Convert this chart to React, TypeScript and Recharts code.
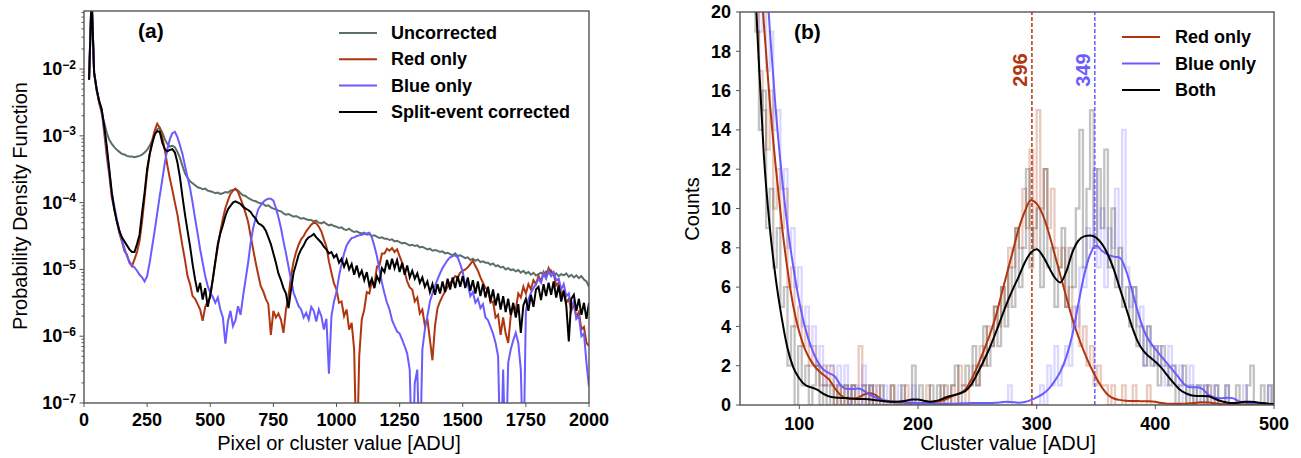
import React from "react";
import {
  LineChart,
  Line,
  XAxis,
  YAxis,
  ReferenceLine,
} from "recharts";

const FONT = '"Liberation Sans", Arial, Helvetica, sans-serif';
const SPINE = "#555555";

const COLOR_UNC = "#5d7068";
const COLOR_RED = "#b0360f";
const COLOR_BLUE = "#6a5cff";
const COLOR_BLACK = "#000000";

// ---------- panel (a): PDF on a log axis, bins every 10 ADU from 20 to 2000 ----------
const pdfAdu = Array.from({ length: 199 }, (_, i) => 20 + 10 * i);

// values are log10(PDF); -8 marks an empty bin (drawn below the axis)
const uncorrectedLog = [
  -2.16, -0.9, -2.05, -2.3, -2.5, -2.66, -2.8, -2.95,
  -3.06, -3.12, -3.17, -3.21, -3.24, -3.27, -3.28, -3.3, -3.31, -3.31,
  -3.32, -3.31, -3.3, -3.28, -3.25, -3.21, -3.15, -3.07, -2.98, -2.9,
  -2.88, -2.95, -3.05, -3.12, -3.16, -3.15, -3.17, -3.24, -3.33, -3.45,
  -3.56, -3.63, -3.68, -3.71, -3.74, -3.77, -3.78, -3.8, -3.79, -3.82,
  -3.83, -3.84, -3.86, -3.85, -3.87, -3.86, -3.84, -3.85, -3.82, -3.81,
  -3.8, -3.82, -3.86, -3.89, -3.9, -3.93, -3.95, -3.97, -3.98, -4.0,
  -4.01, -4.02, -4.05, -4.04, -4.07, -4.09, -4.1, -4.12, -4.13, -4.16,
  -4.18, -4.17, -4.19, -4.21, -4.2, -4.22, -4.24, -4.23, -4.25, -4.26,
  -4.26, -4.28, -4.27, -4.3, -4.31, -4.29, -4.32, -4.34, -4.33, -4.35,
  -4.36, -4.38, -4.37, -4.4, -4.41, -4.39, -4.42, -4.44, -4.43, -4.45,
  -4.46, -4.45, -4.48, -4.47, -4.5, -4.49, -4.51, -4.53, -4.52, -4.54,
  -4.54, -4.56, -4.55, -4.58, -4.57, -4.59, -4.61, -4.6, -4.62, -4.64,
  -4.63, -4.65, -4.64, -4.67, -4.66, -4.68, -4.7, -4.69, -4.72, -4.71,
  -4.72, -4.74, -4.73, -4.76, -4.75, -4.77, -4.79, -4.76, -4.8, -4.79,
  -4.81, -4.83, -4.82, -4.86, -4.84, -4.87, -4.85, -4.89, -4.88, -4.9,
  -4.9, -4.93, -4.91, -4.95, -4.94, -4.97, -4.96, -5.0, -4.98, -5.01,
  -5.0, -5.03, -5.01, -5.05, -5.02, -5.06, -5.04, -5.08, -5.05, -5.09,
  -5.07, -5.05, -5.08, -5.03, -5.06, -5.02, -5.09, -5.06, -5.1, -5.07,
  -5.09, -5.06, -5.11, -5.08, -5.12, -5.09, -5.13, -5.1, -5.15, -5.18,
  -5.26,
];

const redOnlyLog = [
  -2.16, -0.9, -2.05, -2.32, -2.5, -2.63, -2.95, -3.3,
  -3.58, -3.92, -4.1, -4.28, -4.46, -4.58, -4.72, -4.78, -4.9, -4.95,
  -4.85, -4.74, -4.57, -4.28, -3.92, -3.55, -3.27, -3.07, -2.92, -2.82,
  -2.88, -3.02, -3.21, -3.44, -3.64, -3.81, -4.0, -4.18, -4.42, -4.65,
  -4.86, -5.1, -5.22, -5.4, -5.44, -5.52, -5.6, -5.77, -5.56, -5.48,
  -5.42, -5.15, -4.9, -4.66, -4.43, -4.24, -4.08, -3.97, -3.87, -3.82,
  -3.79, -3.84, -3.94, -4.04, -4.16, -4.29, -4.5, -4.7, -4.9, -5.08,
  -5.25, -5.33, -5.44, -5.52, -5.98, -5.62, -5.72, -5.66, -5.75, -5.95,
  -5.6, -5.4, -5.1, -4.88, -4.74, -4.63, -4.55, -4.5, -4.43, -4.38,
  -4.33, -4.3, -4.31, -4.36, -4.43, -4.55, -4.66, -4.88, -5.05, -5.21,
  -5.3, -5.5, -5.48, -5.7, -5.6, -5.9, -5.8, -6.2, -8, -6.3,
  -5.75, -5.6, -5.34, -5.36, -5.18, -5.24, -4.96, -4.94, -4.76, -4.76,
  -4.69, -4.72, -4.68, -4.74, -4.7, -4.8, -4.9, -5.04, -5.18, -5.27,
  -5.3, -5.48, -5.42, -5.66, -5.6, -5.84, -5.74, -6.05, -6.36, -5.85,
  -5.58, -5.48, -5.4, -5.33, -5.26, -5.2, -5.16, -5.1, -5.12, -5.05,
  -5.02, -5.0, -4.97, -4.92, -4.87, -4.95, -5.02, -5.12, -5.2, -5.28,
  -5.3, -5.5, -5.48, -5.72, -5.68, -5.98, -5.72, -5.96, -6.1, -5.7,
  -5.55, -5.6, -5.36, -5.42, -5.26, -5.36, -5.22, -5.3, -5.16, -5.22,
  -5.1, -5.18, -5.04, -5.12, -4.98, -5.04, -5.06, -5.24, -5.2, -5.38,
  -5.32, -5.5, -5.44, -5.62, -5.52, -5.72, -5.64, -5.9, -5.86, -6.1,
  -6.15,
];

const blueOnlyLog = [
  -2.16, -0.9, -2.05, -2.3, -2.48, -2.6, -2.88, -3.2,
  -3.52, -3.85, -4.05, -4.25, -4.42, -4.56, -4.68, -4.8, -4.88, -4.94,
  -4.97, -5.02, -5.08, -5.12, -5.18, -5.1, -4.9, -4.66, -4.42, -4.16,
  -3.9, -3.66, -3.41, -3.2, -3.05, -2.96, -2.94, -3.02, -3.14, -3.27,
  -3.45, -3.62, -3.78, -4.0, -4.24, -4.46, -4.7, -4.9, -5.1, -5.25,
  -5.35, -5.41, -5.5, -5.42, -5.6, -5.72, -6.11, -5.78, -5.62, -5.85,
  -5.76, -5.55, -5.68, -5.4, -5.15, -4.9, -4.6, -4.38, -4.23, -4.1,
  -4.04, -3.99, -3.96, -3.94, -3.94, -3.97, -4.08, -4.22, -4.38, -4.58,
  -4.76, -4.96, -5.15, -5.35, -5.45, -5.55, -5.6, -5.72, -5.65, -5.75,
  -5.56, -5.62, -5.78, -5.6, -5.7, -5.9, -5.74, -6.56, -5.7, -5.48,
  -5.34, -5.1, -4.92, -4.76, -4.64, -4.58, -4.53, -4.52, -4.5, -4.49,
  -4.48, -4.47, -4.46, -4.45, -4.52, -4.65, -4.8, -5.0, -5.2, -5.36,
  -5.5, -5.6, -5.76, -5.85, -5.93, -5.96, -6.05, -6.15, -6.26, -6.5,
  -8, -6.7, -6.5, -8, -6.2, -5.9, -5.7, -5.48, -5.36, -5.25,
  -5.15, -5.06, -4.98, -4.92, -4.86, -4.82, -4.8, -4.79, -4.82, -4.92,
  -5.04, -5.24, -5.22, -5.4, -5.34, -5.5, -5.44, -5.58, -5.52, -5.72,
  -5.76, -5.86, -5.96, -6.1, -6.3, -8, -6.5, -8, -6.4, -6.2,
  -6.06, -5.95, -6.1, -6.5, -8, -5.62, -5.45, -5.35, -5.28, -5.22,
  -5.14, -5.2, -5.06, -5.14, -5.02, -5.1, -5.04, -5.16, -5.14, -5.3,
  -5.22, -5.4, -5.36, -5.56, -5.48, -5.74, -5.7, -6.0, -5.96, -6.4,
  -6.76,
];

const splitCorrectedLog = [
  -2.16, -0.9, -2.05, -2.3, -2.48, -2.6, -2.85, -3.15,
  -3.5, -3.85, -4.1, -4.28, -4.42, -4.52, -4.58, -4.64, -4.7, -4.74,
  -4.74, -4.62, -4.48, -4.15, -3.85, -3.5, -3.28, -3.12, -2.98, -2.93,
  -2.94, -3.1, -3.2, -3.23, -3.21, -3.2, -3.25, -3.4, -3.62, -3.91,
  -4.18, -4.42, -4.65, -4.92, -5.15, -5.34, -5.2, -5.45, -5.28, -5.56,
  -5.38, -5.15, -4.88, -4.62, -4.46, -4.34, -4.2, -4.1, -4.05, -4.0,
  -3.98, -4.0, -4.02, -4.06, -4.09, -4.11, -4.14, -4.2, -4.24, -4.31,
  -4.33, -4.36, -4.42, -4.52, -4.62, -4.76, -4.9, -5.06, -5.16, -5.28,
  -5.36, -5.58, -5.3, -5.05, -4.92, -4.78, -4.7, -4.64, -4.56, -4.52,
  -4.5, -4.47, -4.52, -4.56, -4.6, -4.66, -4.7, -4.76, -4.74, -4.82,
  -4.78, -4.9, -4.84, -4.96, -4.86, -5.0, -4.92, -5.08, -4.94, -5.1,
  -5.02, -5.16, -5.04, -5.24, -5.14, -5.28, -5.1, -5.18, -4.98, -5.04,
  -4.86, -5.0, -4.84, -4.98, -4.86, -5.04, -4.9, -5.08, -4.94, -5.12,
  -5.02, -5.14, -5.06, -5.2, -5.12, -5.26, -5.18, -5.34, -5.22, -5.38,
  -5.22, -5.36, -5.18, -5.34, -5.14, -5.3, -5.12, -5.28, -5.1, -5.26,
  -5.1, -5.28, -5.12, -5.32, -5.16, -5.36, -5.18, -5.4, -5.22, -5.42,
  -5.26, -5.48, -5.3, -5.54, -5.36, -5.6, -5.4, -5.64, -5.44, -5.68,
  -5.5, -5.72, -5.52, -5.95, -5.54, -5.44, -5.62, -5.38, -5.56, -5.3,
  -5.26, -5.46, -5.22, -5.4, -5.2, -5.38, -5.18, -5.42, -5.24, -5.48,
  -5.32, -5.54, -6.08, -5.44, -5.38, -5.62, -5.44, -5.68, -5.5, -5.74,
  -5.5,
];

const pdfXTicks = [0, 250, 500, 750, 1000, 1250, 1500, 1750, 2000];
const pdfYTicks = [
  1e-7, 2e-7, 3e-7, 4e-7, 5e-7, 6e-7, 7e-7, 8e-7, 9e-7,
  1e-6, 2e-6, 3e-6, 4e-6, 5e-6, 6e-6, 7e-6, 8e-6, 9e-6,
  1e-5, 2e-5, 3e-5, 4e-5, 5e-5, 6e-5, 7e-5, 8e-5, 9e-5,
  1e-4, 2e-4, 3e-4, 4e-4, 5e-4, 6e-4, 7e-4, 8e-4, 9e-4,
  1e-3, 2e-3, 3e-3, 4e-3, 5e-3, 6e-3, 7e-3, 8e-3, 9e-3,
  1e-2, 2e-2, 3e-2, 4e-2, 5e-2, 6e-2, 7e-2,
];

// ---------- panel (b): cluster histograms ----------
// smoothed curves, every 5 ADU from 50 to 500
const smoothAdu = Array.from({ length: 91 }, (_, i) => 50 + 5 * i);

const redSmooth = [
  40, 36, 30, 24.5, 19.5, 15.5, 12.2, 9.3, 6.9, 5.0,
  3.7, 2.8, 2.22, 1.82, 1.55, 1.3, 0.85, 0.5, 0.33, 0.3,
  0.38, 0.55, 0.6, 0.48, 0.25, 0.16, 0.14, 0.13, 0.12, 0.1,
  0.1, 0.1, 0.12, 0.16, 0.22, 0.33, 0.48, 0.6, 0.8, 1.3,
  1.95, 2.7, 3.5, 4.4, 5.55, 6.7, 7.85, 9.0, 9.85, 10.42,
  10.25, 9.7, 8.8, 7.7, 6.6, 5.5, 4.4, 3.5, 2.7, 2.0,
  1.4, 0.9, 0.52, 0.33, 0.26, 0.22, 0.2, 0.2, 0.19, 0.19,
  0.16, 0.1, 0.07, 0.06, 0.06, 0.07, 0.09, 0.12, 0.14, 0.13,
  0.09, 0.05, 0.03, 0.03, 0.02, 0.02, 0.02, 0.01, 0.01, 0.01,
  0.01,
];

const blueSmooth = [
  42, 40, 36, 30, 24, 19.2, 15.1, 11.8, 9.1, 7.0,
  5.25, 3.9, 2.95, 2.25, 1.82, 1.62, 1.45, 1.0, 0.82, 0.82,
  0.84, 0.7, 0.5, 0.36, 0.26, 0.21, 0.18, 0.16, 0.14, 0.12,
  0.1, 0.09, 0.08, 0.07, 0.07, 0.07, 0.07, 0.08, 0.09, 0.1,
  0.1, 0.1, 0.1, 0.11, 0.14, 0.17, 0.14, 0.12, 0.15, 0.25,
  0.39, 0.55, 0.81, 1.2, 1.7, 2.45, 3.55, 5.1, 6.6, 7.65,
  8.12, 7.85, 7.65, 7.55, 7.5, 6.9, 5.9, 4.8, 3.85, 3.25,
  2.85, 2.48, 2.12, 1.75, 1.38, 1.02, 0.9, 0.9, 0.8, 0.5,
  0.38, 0.34, 0.37, 0.35, 0.2, 0.14, 0.1, 0.09, 0.08, 0.06,
  0.05,
];

const bothSmooth = [
  40, 32, 25, 18.5, 12.8, 9.1, 6.5, 4.5, 2.9, 1.9,
  1.35, 1.02, 0.9, 0.78, 0.58, 0.44, 0.38, 0.36, 0.35, 0.33,
  0.31, 0.3, 0.28, 0.24, 0.2, 0.18, 0.17, 0.18, 0.22, 0.28,
  0.28, 0.22, 0.17, 0.2, 0.3, 0.42, 0.5, 0.58, 0.72, 1.05,
  1.6, 2.2, 2.85, 3.6, 4.4, 5.2, 5.9, 6.55, 7.25, 7.75,
  7.92, 7.6, 7.05, 6.5, 6.24, 6.8, 7.75, 8.35, 8.58, 8.62,
  8.52, 8.2, 7.66, 6.9, 5.95, 5.0, 4.05, 3.25, 2.75, 2.45,
  2.2, 1.9, 1.52, 1.15, 0.82, 0.62, 0.5, 0.46, 0.46, 0.44,
  0.32, 0.2, 0.13, 0.1, 0.12, 0.16, 0.17, 0.14, 0.1, 0.07,
  0.05,
];

// raw histogram counts, 3 ADU bins starting at 51
const histAdu = Array.from({ length: 150 }, (_, i) => 51 + 3 * i);

const redCounts = [
  34, 30, 27, 22, 20, 17, 15, 13, 16, 10,
  12, 9, 11, 6, 7, 4, 5, 3, 4, 2,
  3, 2, 1, 2, 1, 2, 0, 1, 0, 1,
  0, 1, 0, 3, 1, 0, 1, 0, 1, 0,
  0, 0, 1, 0, 0, 0, 1, 0, 0, 0,
  0, 0, 1, 0, 0, 0, 1, 0, 0, 1,
  0, 2, 1, 0, 1, 2, 1, 3, 2, 4,
  3, 5, 4, 6, 5, 8, 7, 9, 8, 11,
  9, 13, 8, 15, 10, 12, 9, 11, 8, 7,
  8, 5, 6, 4, 5, 3, 4, 2, 3, 1,
  2, 1, 1, 0, 1, 0, 0, 1, 0, 0,
  1, 0, 0, 0, 1, 0, 0, 0, 0, 0,
  0, 0, 0, 0, 0, 0, 0, 0, 0, 0,
  0, 1, 0, 0, 0, 0, 0, 0, 0, 0,
  0, 0, 0, 0, 0, 0, 0, 0, 0, 0,
];

const blueCounts = [
  40, 35, 30, 26, 23, 19, 21, 17, 19, 14,
  15, 11, 12, 8, 9, 6, 7, 4, 5, 3,
  4, 2, 3, 1, 2, 2, 1, 2, 1, 2,
  0, 1, 1, 0, 2, 1, 0, 1, 0, 0,
  1, 0, 0, 0, 1, 0, 0, 0, 1, 0,
  0, 0, 0, 0, 0, 0, 0, 0, 0, 0,
  0, 0, 0, 0, 0, 0, 0, 0, 0, 0,
  0, 0, 0, 0, 0, 1, 0, 0, 0, 0,
  0, 0, 0, 0, 1, 0, 2, 1, 3, 1,
  2, 3, 2, 5, 4, 7, 6, 9, 8, 12,
  7, 10, 6, 9, 8, 11, 6, 14, 7, 5,
  6, 4, 5, 2, 4, 3, 2, 3, 2, 1,
  3, 2, 1, 2, 0, 1, 2, 0, 1, 1,
  0, 1, 0, 1, 0, 0, 1, 0, 0, 0,
  0, 1, 0, 0, 0, 0, 0, 0, 1, 0,
];

const bothCounts = [
  30, 26, 24, 21, 19, 14, 16, 9, 11, 7,
  9, 5, 6, 2, 4, 0, 3, 1, 2, 0,
  1, 2, 0, 1, 0, 1, 0, 1, 0, 1,
  0, 1, 0, 0, 1, 0, 1, 0, 0, 1,
  0, 0, 1, 0, 0, 1, 0, 0, 2, 0,
  1, 0, 0, 1, 0, 1, 0, 1, 0, 1,
  2, 0, 1, 2, 1, 3, 1, 2, 4, 2,
  3, 5, 3, 6, 4, 7, 5, 9, 6, 8,
  12, 7, 9, 10, 6, 12, 7, 8, 5, 7,
  9, 5, 8, 6, 10, 14, 7, 11, 15, 8,
  12, 9, 13, 7, 10, 6, 8, 5, 6, 4,
  6, 3, 4, 2, 4, 2, 3, 1, 3, 2,
  1, 2, 0, 1, 2, 0, 1, 0, 1, 0,
  1, 0, 0, 1, 0, 0, 1, 0, 0, 1,
  0, 0, 1, 2, 0, 0, 1, 0, 1, 0,
];

const peakRed = 296;
const peakBlue = 349;

const countXTicks = [100, 200, 300, 400, 500];
const countYTicks = [0, 2, 4, 6, 8, 10, 12, 14, 16, 18, 20];

// ---------- tables ----------
const pdfRows = pdfAdu.map((x, i) => ({
  x,
  uncorrected: Math.pow(10, uncorrectedLog[i]),
  red: Math.pow(10, redOnlyLog[i]),
  blue: Math.pow(10, blueOnlyLog[i]),
  split: Math.pow(10, splitCorrectedLog[i]),
}));

const toRows = (xs: number[], ys: number[]) => xs.map((x, i) => ({ x, y: ys[i] ?? 0 }));

const redSmoothRows = toRows(smoothAdu, redSmooth);
const blueSmoothRows = toRows(smoothAdu, blueSmooth);
const bothSmoothRows = toRows(smoothAdu, bothSmooth);
const redHistRows = toRows(histAdu, redCounts);
const blueHistRows = toRows(histAdu, blueCounts);
const bothHistRows = toRows(histAdu, bothCounts);

const tickFont = { fontSize: 18, fontWeight: 700, fill: "#000", fontFamily: FONT };

// y tick for the log axis: major ticks get 10^n labels, minor ticks only a short mark
const LogTick = (props: any) => {
  const { y, payload } = props;
  const e = Math.log10(payload.value);
  const major = Math.abs(e - Math.round(e)) < 1e-6;
  return (
    <g>
      <line x1={84} x2={major ? 79.5 : 81.5} y1={y} y2={y} stroke={SPINE} strokeWidth={1} />
      {major && (
        <text
          x={76}
          y={y}
          textAnchor="end"
          dominantBaseline="central"
          fontFamily={FONT}
          fontWeight={700}
          fontSize={18}
          fill="#000"
        >
          10
          <tspan dy={-4.5} fontSize={12}>{`\u2212${-Math.round(e)}`}</tspan>
        </text>
      )}
    </g>
  );
};

const peakLabel = (text: string, color: string) => (props: any) => {
  const vx = props.viewBox.x - 4.5;
  const vy = props.viewBox.y + 58;
  return (
    <text
      x={vx}
      y={vy}
      transform={`rotate(-90 ${vx} ${vy})`}
      textAnchor="middle"
      fontFamily={FONT}
      fontWeight={700}
      fontSize={20}
      fill={color}
    >
      {text}
    </text>
  );
};

const legendA = [
  { name: "Uncorrected", color: COLOR_UNC },
  { name: "Red only", color: COLOR_RED },
  { name: "Blue only", color: COLOR_BLUE },
  { name: "Split-event corrected", color: COLOR_BLACK },
];
const legendB = [
  { name: "Red only", color: COLOR_RED },
  { name: "Blue only", color: COLOR_BLUE },
  { name: "Both", color: COLOR_BLACK },
];

const histProps = {
  type: "stepAfter" as const,
  dataKey: "y",
  strokeWidth: 2.3,
  dot: false,
  activeDot: false,
  isAnimationActive: false,
};

const App: React.FC = () => {
  return (
    <div
      style={{
        position: "absolute",
        left: 0,
        top: 0,
        width: 1301,
        height: 458,
        background: "#fff",
        fontFamily: FONT,
        overflow: "hidden",
      }}
    >
      {/* (a) probability density function */}
      <div style={{ position: "absolute", left: 0, top: 0 }}>
        <LineChart width={640} height={458} data={pdfRows} margin={{ top: 11, right: 51, bottom: 0, left: 0 }}>
          <XAxis
            dataKey="x"
            type="number"
            domain={[0, 2000]}
            ticks={pdfXTicks}
            interval={0}
            axisLine={false}
            tickLine={{ stroke: SPINE }}
            tickSize={4}
            tickMargin={6}
            height={55}
            tick={tickFont}
            allowDataOverflow
          />
          <YAxis
            type="number"
            scale="log"
            domain={[1e-7, 0.074]}
            ticks={pdfYTicks}
            interval={0}
            width={84}
            axisLine={false}
            tickLine={false}
            tick={<LogTick />}
            allowDataOverflow
          />
          <Line type="linear" dataKey="uncorrected" stroke={COLOR_UNC} strokeWidth={2} dot={false} activeDot={false} isAnimationActive={false} />
          <Line type="linear" dataKey="red" stroke={COLOR_RED} strokeWidth={2} dot={false} activeDot={false} isAnimationActive={false} />
          <Line type="linear" dataKey="blue" stroke={COLOR_BLUE} strokeWidth={2} dot={false} activeDot={false} isAnimationActive={false} />
          <Line type="linear" dataKey="split" stroke={COLOR_BLACK} strokeWidth={2} dot={false} activeDot={false} isAnimationActive={false} />
        </LineChart>
      </div>

      {/* (b) cluster value histogram */}
      <div style={{ position: "absolute", left: 650, top: 0 }}>
        <LineChart width={651} height={458} margin={{ top: 12, right: 27, bottom: 0, left: 0 }}>
          <XAxis
            dataKey="x"
            type="number"
            domain={[50, 500]}
            ticks={countXTicks}
            interval={0}
            axisLine={false}
            tickLine={{ stroke: SPINE }}
            tickSize={4}
            tickMargin={8}
            height={53}
            tick={tickFont}
            allowDataOverflow
          />
          <YAxis
            type="number"
            domain={[0, 20]}
            ticks={countYTicks}
            interval={0}
            width={90}
            axisLine={false}
            tickLine={{ stroke: SPINE }}
            tickSize={4}
            tickMargin={5}
            tick={tickFont}
            allowDataOverflow
          />
          <Line data={redHistRows} {...histProps} stroke={COLOR_RED} strokeOpacity={0.27} />
          <Line data={blueHistRows} {...histProps} stroke={COLOR_BLUE} strokeOpacity={0.24} />
          <Line data={bothHistRows} {...histProps} stroke="#000" strokeOpacity={0.24} />
          <ReferenceLine x={peakRed} stroke={COLOR_RED} strokeWidth={1.5} strokeDasharray="4 2" label={peakLabel(String(peakRed), COLOR_RED)} />
          <ReferenceLine x={peakBlue} stroke={COLOR_BLUE} strokeWidth={1.5} strokeDasharray="4 2" label={peakLabel(String(peakBlue), COLOR_BLUE)} />
          <Line data={redSmoothRows} type="monotone" dataKey="y" stroke={COLOR_RED} strokeWidth={2} dot={false} activeDot={false} isAnimationActive={false} />
          <Line data={blueSmoothRows} type="monotone" dataKey="y" stroke={COLOR_BLUE} strokeWidth={2} dot={false} activeDot={false} isAnimationActive={false} />
          <Line data={bothSmoothRows} type="monotone" dataKey="y" stroke={COLOR_BLACK} strokeWidth={2} dot={false} activeDot={false} isAnimationActive={false} />
        </LineChart>
      </div>

      {/* frames, legends, titles */}
      <svg width={1301} height={458} style={{ position: "absolute", left: 0, top: 0, pointerEvents: "none" }}>
        <rect x={84} y={11} width={505} height={392} fill="none" stroke={SPINE} strokeWidth={1.4} />
        <rect x={740} y={12} width={534} height={393} fill="none" stroke={SPINE} strokeWidth={1.4} />

        <text x={138} y={38} fontFamily={FONT} fontWeight={700} fontSize={21}>(a)</text>
        <text x={794} y={39} fontFamily={FONT} fontWeight={700} fontSize={21}>(b)</text>

        {legendA.map((item, i) => (
          <g key={item.name}>
            <line x1={339} x2={377} y1={33 + i * 26.3} y2={33 + i * 26.3} stroke={item.color} strokeWidth={2} />
            <text x={391} y={33 + i * 26.3} dominantBaseline="central" fontFamily={FONT} fontWeight={700} fontSize={18}>
              {item.name}
            </text>
          </g>
        ))}
        {legendB.map((item, i) => (
          <g key={item.name}>
            <line x1={1122} x2={1160} y1={37 + i * 26.5} y2={37 + i * 26.5} stroke={item.color} strokeWidth={2} />
            <text x={1175} y={37 + i * 26.5} dominantBaseline="central" fontFamily={FONT} fontWeight={700} fontSize={18}>
              {item.name}
            </text>
          </g>
        ))}

        <text x={339} y={450} textAnchor="middle" fontFamily={FONT} fontSize={20}>Pixel or cluster value [ADU]</text>
        <text x={1008} y={450} textAnchor="middle" fontFamily={FONT} fontSize={20}>Cluster value [ADU]</text>
        <text x={27} y={206} textAnchor="middle" transform="rotate(-90 27 206)" fontFamily={FONT} fontSize={20}>
          Probability Density Function
        </text>
        <text x={699} y={209} textAnchor="middle" transform="rotate(-90 699 209)" fontFamily={FONT} fontSize={20}>
          Counts
        </text>
      </svg>
    </div>
  );
};

export default App;
